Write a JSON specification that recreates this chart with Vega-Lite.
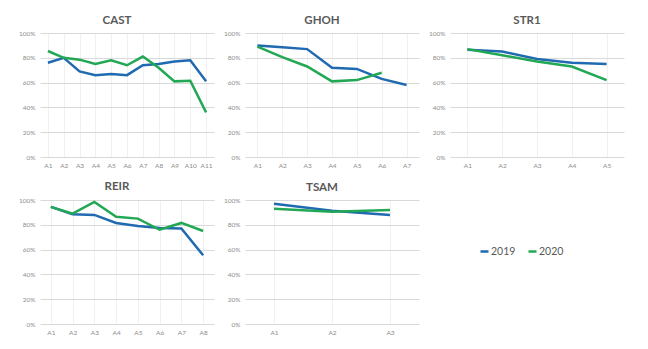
{
  "$schema": "https://vega.github.io/schema/vega-lite/v6.json",
  "background": "white",
  "padding": {"left": 18, "top": 14, "right": 5, "bottom": 5},
  "autosize": {"type": "pad"},
  "data": {"values": [
    {"panel":"CAST","cat":"A1","year":"2019","value":0.76},
    {"panel":"CAST","cat":"A2","year":"2019","value":0.80},
    {"panel":"CAST","cat":"A3","year":"2019","value":0.69},
    {"panel":"CAST","cat":"A4","year":"2019","value":0.66},
    {"panel":"CAST","cat":"A5","year":"2019","value":0.67},
    {"panel":"CAST","cat":"A6","year":"2019","value":0.66},
    {"panel":"CAST","cat":"A7","year":"2019","value":0.74},
    {"panel":"CAST","cat":"A8","year":"2019","value":0.75},
    {"panel":"CAST","cat":"A9","year":"2019","value":0.77},
    {"panel":"CAST","cat":"A10","year":"2019","value":0.78},
    {"panel":"CAST","cat":"A11","year":"2019","value":0.61},
    {"panel":"CAST","cat":"A1","year":"2020","value":0.855},
    {"panel":"CAST","cat":"A2","year":"2020","value":0.80},
    {"panel":"CAST","cat":"A3","year":"2020","value":0.785},
    {"panel":"CAST","cat":"A4","year":"2020","value":0.75},
    {"panel":"CAST","cat":"A5","year":"2020","value":0.78},
    {"panel":"CAST","cat":"A6","year":"2020","value":0.74},
    {"panel":"CAST","cat":"A7","year":"2020","value":0.81},
    {"panel":"CAST","cat":"A8","year":"2020","value":0.72},
    {"panel":"CAST","cat":"A9","year":"2020","value":0.61},
    {"panel":"CAST","cat":"A10","year":"2020","value":0.615},
    {"panel":"CAST","cat":"A11","year":"2020","value":0.36},
    {"panel":"GHOH","cat":"A1","year":"2019","value":0.90},
    {"panel":"GHOH","cat":"A2","year":"2019","value":0.885},
    {"panel":"GHOH","cat":"A3","year":"2019","value":0.87},
    {"panel":"GHOH","cat":"A4","year":"2019","value":0.72},
    {"panel":"GHOH","cat":"A5","year":"2019","value":0.71},
    {"panel":"GHOH","cat":"A6","year":"2019","value":0.63},
    {"panel":"GHOH","cat":"A7","year":"2019","value":0.58},
    {"panel":"GHOH","cat":"A1","year":"2020","value":0.89},
    {"panel":"GHOH","cat":"A2","year":"2020","value":0.805},
    {"panel":"GHOH","cat":"A3","year":"2020","value":0.73},
    {"panel":"GHOH","cat":"A4","year":"2020","value":0.61},
    {"panel":"GHOH","cat":"A5","year":"2020","value":0.62},
    {"panel":"GHOH","cat":"A6","year":"2020","value":0.68},
    {"panel":"STR1","cat":"A1","year":"2019","value":0.865},
    {"panel":"STR1","cat":"A2","year":"2019","value":0.85},
    {"panel":"STR1","cat":"A3","year":"2019","value":0.79},
    {"panel":"STR1","cat":"A4","year":"2019","value":0.76},
    {"panel":"STR1","cat":"A5","year":"2019","value":0.75},
    {"panel":"STR1","cat":"A1","year":"2020","value":0.87},
    {"panel":"STR1","cat":"A2","year":"2020","value":0.82},
    {"panel":"STR1","cat":"A3","year":"2020","value":0.77},
    {"panel":"STR1","cat":"A4","year":"2020","value":0.73},
    {"panel":"STR1","cat":"A5","year":"2020","value":0.62},
    {"panel":"REIR","cat":"A1","year":"2019","value":0.945},
    {"panel":"REIR","cat":"A2","year":"2019","value":0.885},
    {"panel":"REIR","cat":"A3","year":"2019","value":0.88},
    {"panel":"REIR","cat":"A4","year":"2019","value":0.815},
    {"panel":"REIR","cat":"A5","year":"2019","value":0.79},
    {"panel":"REIR","cat":"A6","year":"2019","value":0.775},
    {"panel":"REIR","cat":"A7","year":"2019","value":0.77},
    {"panel":"REIR","cat":"A8","year":"2019","value":0.555},
    {"panel":"REIR","cat":"A1","year":"2020","value":0.945},
    {"panel":"REIR","cat":"A2","year":"2020","value":0.89},
    {"panel":"REIR","cat":"A3","year":"2020","value":0.985},
    {"panel":"REIR","cat":"A4","year":"2020","value":0.865},
    {"panel":"REIR","cat":"A5","year":"2020","value":0.85},
    {"panel":"REIR","cat":"A6","year":"2020","value":0.76},
    {"panel":"REIR","cat":"A7","year":"2020","value":0.815},
    {"panel":"REIR","cat":"A8","year":"2020","value":0.75},
    {"panel":"TSAM","cat":"A1","year":"2019","value":0.97},
    {"panel":"TSAM","cat":"A2","year":"2019","value":0.914},
    {"panel":"TSAM","cat":"A3","year":"2019","value":0.88},
    {"panel":"TSAM","cat":"A1","year":"2020","value":0.93},
    {"panel":"TSAM","cat":"A2","year":"2020","value":0.906},
    {"panel":"TSAM","cat":"A3","year":"2020","value":0.92}
  ]},
  "columns": 3,
  "spacing": {"column": 31, "row": 43},
  "bounds": "flush",
  "concat": [
    {"title": {"text": "CAST"}, "transform": [{"filter": "datum.panel === 'CAST'"}], "width": 174, "height": 124, "mark": {"type": "line", "strokeWidth": 2.5},
     "encoding": {"x": {"field": "cat", "type": "nominal", "sort": null, "scale": {"type": "point", "padding": 0.5}, "title": null},
                  "y": {"field": "value", "type": "quantitative", "scale": {"domain": [0, 1]}, "axis": {"values": [0, 0.2, 0.4, 0.6, 0.8, 1], "format": ".0%"}, "title": null},
                  "color": {"field": "year", "type": "nominal", "scale": {"domain": ["2019", "2020"], "range": ["#1F6AB0", "#22A854"]}, "title": null}}},
    {"title": {"text": "GHOH"}, "transform": [{"filter": "datum.panel === 'GHOH'"}], "width": 174, "height": 124, "mark": {"type": "line", "strokeWidth": 2.5},
     "encoding": {"x": {"field": "cat", "type": "nominal", "sort": null, "scale": {"type": "point", "padding": 0.5}, "title": null},
                  "y": {"field": "value", "type": "quantitative", "scale": {"domain": [0, 1]}, "axis": {"values": [0, 0.2, 0.4, 0.6, 0.8, 1], "format": ".0%"}, "title": null},
                  "color": {"field": "year", "type": "nominal", "scale": {"domain": ["2019", "2020"], "range": ["#1F6AB0", "#22A854"]}, "title": null}}},
    {"title": {"text": "STR1"}, "transform": [{"filter": "datum.panel === 'STR1'"}], "width": 174, "height": 124, "mark": {"type": "line", "strokeWidth": 2.5},
     "encoding": {"x": {"field": "cat", "type": "nominal", "sort": null, "scale": {"type": "point", "padding": 0.5}, "title": null},
                  "y": {"field": "value", "type": "quantitative", "scale": {"domain": [0, 1]}, "axis": {"values": [0, 0.2, 0.4, 0.6, 0.8, 1], "format": ".0%"}, "title": null},
                  "color": {"field": "year", "type": "nominal", "scale": {"domain": ["2019", "2020"], "range": ["#1F6AB0", "#22A854"]}, "title": null}}},
    {"title": {"text": "REIR"}, "transform": [{"filter": "datum.panel === 'REIR'"}], "width": 174, "height": 124, "mark": {"type": "line", "strokeWidth": 2.5},
     "encoding": {"x": {"field": "cat", "type": "nominal", "sort": null, "scale": {"type": "point", "padding": 0.5}, "title": null},
                  "y": {"field": "value", "type": "quantitative", "scale": {"domain": [0, 1]}, "axis": {"values": [0, 0.2, 0.4, 0.6, 0.8, 1], "format": ".0%"}, "title": null},
                  "color": {"field": "year", "type": "nominal", "scale": {"domain": ["2019", "2020"], "range": ["#1F6AB0", "#22A854"]}, "title": null}}},
    {"title": {"text": "TSAM"}, "transform": [{"filter": "datum.panel === 'TSAM'"}], "width": 174, "height": 124, "mark": {"type": "line", "strokeWidth": 2.5},
     "encoding": {"x": {"field": "cat", "type": "nominal", "sort": null, "scale": {"type": "point", "padding": 0.5}, "title": null},
                  "y": {"field": "value", "type": "quantitative", "scale": {"domain": [0, 1]}, "axis": {"values": [0, 0.2, 0.4, 0.6, 0.8, 1], "format": ".0%"}, "title": null},
                  "color": {"field": "year", "type": "nominal", "scale": {"domain": ["2019", "2020"], "range": ["#1F6AB0", "#22A854"]}, "title": null,
                            "legend": {"orient": "none", "legendX": 439, "legendY": 213, "direction": "horizontal", "symbolType": "stroke", "symbolSize": 64, "symbolStrokeWidth": 2.5, "labelFontSize": 10.5, "labelColor": "#595959", "labelFont": "Lato", "columnPadding": 7, "labelOffset": 1}}}}
  ],
  "resolve": {"scale": {"x": "independent", "y": "independent", "color": "shared"}},
  "config": {
    "view": {"stroke": null},
    "title": {"font": "Lato", "fontSize": 11.5, "fontWeight": "bold", "color": "#595959", "anchor": "middle", "offset": 4, "dx": -10},
    "axis": {"labelFont": "Lato", "labelFontSize": 6.5, "labelColor": "#8C8C8C", "ticks": false, "domain": false, "gridColor": "#D9D9D9", "gridWidth": 1},
    "axisX": {"grid": true, "gridColor": "#F0F0F0", "labelAngle": 0, "labelPadding": 5},
    "axisY": {"labelPadding": 5}
  }
}
